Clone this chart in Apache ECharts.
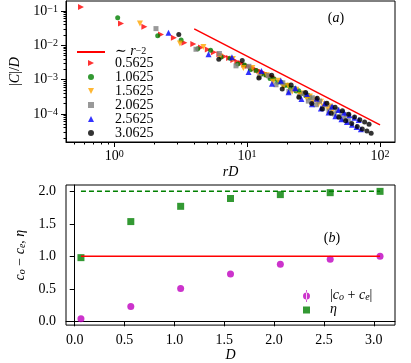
<!DOCTYPE html>
<html>
<head>
<meta charset="utf-8">
<script src="https://cdn.jsdelivr.net/npm/echarts@6.0.0/dist/echarts.min.js"></script>
<style>
  html, body { margin: 0; padding: 0; background: #fff; }
  #main { width: 411px; height: 363px; }
</style>
</head>
<body>
<div id="main"></div>
<script type="text/javascript">
// panel (a): |C|/D against rD, one list per D, index r = 1..28
var rIndex = [1, 2, 3, 4, 5, 6, 7, 8, 9, 10, 11, 12, 13, 14, 15, 16, 17, 18, 19, 20, 21, 22, 23, 24, 25, 26, 27, 28];
var dLabels = ["0.5625", "1.0625", "1.5625", "2.0625", "2.5625", "3.0625"];
var dValues = [0.5625, 1.0625, 1.5625, 2.0625, 2.5625, 3.0625];

var cD_0_5625 = [0.13, 0.0428, 0.0346, 0.0204, 0.0164, 0.0119, 0.0108, 0.00865, 0.0075, 0.00621, 0.0055, 0.00473, 0.00422, 0.00372,
  0.00332, 0.00299, 0.0027, 0.00247, 0.00226, 0.00205, 0.0019, 0.00177, 0.00162, 0.00152, 0.0014, 0.00133, 0.00123, 0.00117];
var cD_1_0625 = [0.0631, 0.019, 0.0143, 0.00787, 0.00711, 0.00451, 0.00417, 0.00284, 0.00264, 0.00195, 0.00185, 0.00142, 0.00136, 0.00107,
  0.00104, 0.000836, 0.00083, 0.000675, 0.000679, 0.00056, 0.000557, 0.000462, 0.000475, 0.000398, 0.000402, 0.000339, 0.000352, 0.000299];
var cD_1_5625 = [0.0432, 0.0113, 0.00893, 0.00469, 0.00395, 0.00218, 0.00216, 0.00132, 0.00134, 0.000861, 0.000916, 0.000612, 0.000656, 0.00045,
  0.000505, 0.000352, 0.000393, 0.000278, 0.000321, 0.000231, 0.000264, 0.000191, 0.000225, 0.000164, 0.00019, 0.00014, 0.000163, 0.000121];
var cD_2_0625 = [0.0305, 0.00762, 0.00575, 0.00251, 0.00243, 0.0012, 0.0013, 0.000705, 0.000805, 0.000451, 0.000538, 0.000321, 0.000394, 0.000236,
  0.000296, 0.000185, 0.000236, 0.000146, 0.000189, 0.000121, 0.000155, 0.0000998, 0.000132, 0.0000839, 0.000112, 0.0000731, 0.0000957, 0.0000631];
var cD_2_5625 = [0.0232, 0.00542, 0.00449, 0.00167, 0.00177, 0.000759, 0.000925, 0.000427, 0.00056, 0.000273, 0.000383, 0.00019, 0.000274, 0.000143,
  0.000206, 0.000109, 0.000164, 0.0000861, 0.000131, 0.0000698, 0.000108, 0.0000577, 0.0000918, 0.0000485, 0.0000776, 0.0000413, 0.0000665, 0.0000356];
var cD_3_0625 = [0.0205, 0.00388, 0.00361, 0.00111, 0.00133, 0.000531, 0.000693, 0.000305, 0.00042, 0.0002, 0.000287, 0.000139, 0.000206, 0.000104,
  0.000155, 0.00008, 0.000123, 0.0000631, 0.0000984, 0.0000524, 0.0000807, 0.0000433, 0.0000673, 0.0000364, 0.0000582, 0.0000317, 0.0000499, 0.0000274];

// reference power law ~ r^-2
var guideX = [4, 100];
var guideY = [0.03, 0.000048];

// panel (b)
var dList = [0.0625, 0.5625, 1.0625, 1.5625, 2.0625, 2.5625, 3.0625];
var sumAbs = [0.04, 0.23, 0.505, 0.73, 0.88, 0.955, 1.0];
var etaVals = [0.98, 1.535, 1.77, 1.89, 1.95, 1.98, 2.0];
var refX = [0.0625, 3.0625];
var refOne = [1, 1];
var refTwo = [2, 2];

// ticks
var topXMajor = [1, 10, 100];
var topXMinor = [0.5, 0.6, 0.7, 0.8, 0.9, 2, 3, 4, 5, 6, 7, 8, 9, 20, 30, 40, 50, 60, 70, 80, 90];
var topYMajor = [1e-4, 1e-3, 1e-2, 1e-1];
var topYMinor = [];
[-5, -4, -3, -2].forEach(function (e) {
  for (var m = 2; m <= 9; m++) topYMinor.push(m * Math.pow(10, e));
});
var botXTicks = [0, 0.5, 1, 1.5, 2, 2.5, 3];
var botYTicks = [0, 0.5, 1, 1.5, 2];

var serif = "'Liberation Serif', 'DejaVu Serif', serif";
var FS = 14;

var rich = {
  t: { fontFamily: serif, fontSize: FS, color: "#000", verticalAlign: "bottom" },
  i: { fontFamily: serif, fontSize: FS, color: "#000", fontStyle: "italic", verticalAlign: "bottom" },
  s: { fontFamily: serif, fontSize: 10, color: "#000", verticalAlign: "top" },
  sub: { fontFamily: serif, fontSize: 10, color: "#000", fontStyle: "italic", verticalAlign: "bottom" }
};

function expLabel(v) {
  var e = Math.round(Math.log(v) / Math.LN10);
  return "{t|10}{s|" + (e < 0 ? "\u2212" + (-e) : e) + "}";
}

function pairs(xs, ys) {
  return xs.map(function (x, i) { return [x, ys[i]]; });
}

var cLists = [cD_0_5625, cD_1_0625, cD_1_5625, cD_2_0625, cD_2_5625, cD_3_0625];
var markers = [
  { symbol: "triangle", rotate: -90, size: 6, color: "#ff0000", icon: "path://M0,0L6,3L0,6z" },
  { symbol: "circle", rotate: 0, size: 5, color: "#008000", icon: "circle" },
  { symbol: "triangle", rotate: 180, size: 6, color: "#ffa500", icon: "path://M0,0L6,0L3,6z" },
  { symbol: "rect", rotate: 0, size: 5, color: "#808080", icon: "rect" },
  { symbol: "triangle", rotate: 0, size: 6, color: "#0000ff", icon: "triangle" },
  { symbol: "circle", rotate: 0, size: 5, color: "#000000", icon: "circle" }
];

var series = [
  {
    name: "guide",
    type: "line",
    xAxisIndex: 0,
    yAxisIndex: 0,
    symbol: "none",
    data: pairs(guideX, guideY),
    lineStyle: { color: "#ff0000", width: 1.5 },
    itemStyle: { color: "#ff0000" }
  }
];
cLists.forEach(function (list, k) {
  var m = markers[k];
  series.push({
    name: dLabels[k],
    type: "scatter",
    xAxisIndex: 0,
    yAxisIndex: 0,
    symbol: m.symbol,
    symbolRotate: m.rotate,
    symbolSize: m.size,
    symbolKeepAspect: true,
    itemStyle: { color: m.color },
    data: rIndex.map(function (r, i) { return [r * dValues[k], list[i]]; })
  });
});
series.push(
  {
    name: "one",
    type: "line",
    xAxisIndex: 2,
    yAxisIndex: 2,
    symbol: "none",
    data: pairs(refX, refOne),
    lineStyle: { color: "#ff0000", width: 1.5 }
  },
  {
    name: "two",
    type: "line",
    xAxisIndex: 2,
    yAxisIndex: 2,
    symbol: "none",
    data: pairs(refX, refTwo),
    lineStyle: { color: "#008000", width: 1.5, type: [5, 3] }
  },
  {
    name: "sum",
    type: "scatter",
    xAxisIndex: 2,
    yAxisIndex: 2,
    symbol: "circle",
    symbolSize: 7,
    itemStyle: { color: "#bf00bf" },
    data: pairs(dList, sumAbs)
  },
  {
    name: "eta",
    type: "scatter",
    xAxisIndex: 2,
    yAxisIndex: 2,
    symbol: "rect",
    symbolSize: 7,
    symbolKeepAspect: true,
    itemStyle: { color: "#008000" },
    data: pairs(dList, etaVals)
  }
);

var tickLine = { color: "#000", width: 1 };
var legendText = { fontFamily: serif, fontSize: FS, color: "#000", lineHeight: 12, rich: rich };
var option = {
  animation: false,
  backgroundColor: "#fff",
  grid: [
    { left: 66, top: 1, width: 329, height: 141, show: true, borderColor: "#000", borderWidth: 1 },
    { left: 66, top: 185, width: 329, height: 142, show: true, borderColor: "#000", borderWidth: 1 }
  ],
  xAxis: [
    {
      type: "log", gridIndex: 0, min: 0.434, max: 129.6, position: "bottom",
      axisLine: { show: true, lineStyle: tickLine },
      axisTick: { customValues: topXMajor, length: 5, lineStyle: tickLine },
      axisLabel: { customValues: topXMajor, formatter: expLabel, rich: rich, margin: 7 },
      splitLine: { show: false },
      name: "rD", nameLocation: "middle", nameGap: 23,
      nameTextStyle: { fontFamily: serif, fontSize: FS, fontStyle: "italic", color: "#000" }
    },
    {
      type: "log", gridIndex: 0, min: 0.434, max: 129.6, position: "bottom",
      axisLine: { show: false },
      axisTick: { customValues: topXMinor, length: 2.5, lineStyle: tickLine },
      axisLabel: { show: false },
      splitLine: { show: false }
    },
    {
      type: "value", gridIndex: 1, min: -0.0875, max: 3.2125, position: "bottom",
      axisLine: { show: true, lineStyle: tickLine },
      axisTick: { customValues: botXTicks, length: 5, lineStyle: tickLine },
      axisLabel: {
        customValues: botXTicks, margin: 8,
        fontFamily: serif, fontSize: FS, color: "#000",
        formatter: function (v) { return v.toFixed(1); }
      },
      splitLine: { show: false },
      name: "D", nameLocation: "middle", nameGap: 22,
      nameTextStyle: { fontFamily: serif, fontSize: FS, fontStyle: "italic", color: "#000" }
    }
  ],
  yAxis: [
    {
      type: "log", gridIndex: 0, min: 1.52e-5, max: 0.194, position: "left",
      axisLine: { show: true, lineStyle: tickLine },
      axisTick: { customValues: topYMajor, length: 5, lineStyle: tickLine },
      axisLabel: { customValues: topYMajor, formatter: expLabel, rich: rich, margin: 8 },
      splitLine: { show: false },
      name: "{t||}{i|C}{t||/}{i|D}", nameLocation: "middle", nameGap: 38,
      nameTextStyle: { rich: rich }
    },
    {
      type: "log", gridIndex: 0, min: 1.52e-5, max: 0.194, position: "left",
      axisLine: { show: false },
      axisTick: { customValues: topYMinor, length: 2.5, lineStyle: tickLine },
      axisLabel: { show: false },
      splitLine: { show: false }
    },
    {
      type: "value", gridIndex: 1, min: -0.058, max: 2.098, position: "left",
      axisLine: { show: true, lineStyle: tickLine },
      axisTick: { customValues: botYTicks, length: 5, lineStyle: tickLine },
      axisLabel: {
        customValues: botYTicks, margin: 10,
        fontFamily: serif, fontSize: FS, color: "#000",
        formatter: function (v) { return v.toFixed(1); }
      },
      splitLine: { show: false },
      name: "{i|c}{sub|o}{t| \u2212 }{i|c}{sub|e}{t|, }{i|\u03b7}", nameLocation: "middle", nameGap: 38,
      nameTextStyle: { rich: rich }
    }
  ],
  legend: [
    {
      orient: "vertical", left: 77, top: 44, padding: 0,
      itemWidth: 28, itemHeight: 6, selectedMode: false,
      data: [{ name: "guide", icon: "path://M0,0h28v2h-28z" }],
      formatter: function () { return "{t|\u223c }{i|r}{s|\u22122}"; },
      textStyle: Object.assign({ padding: [0, 0, 0, 5] }, legendText)
    },
    {
      orient: "vertical", left: 88, top: 56, padding: 0, itemGap: 0,
      itemWidth: 6, itemHeight: 6, selectedMode: false,
      data: dLabels.map(function (name, k) {
        return { name: name, icon: markers[k].icon };
      }),
      textStyle: Object.assign({ padding: [0, 0, 0, 16] }, legendText)
    },
    {
      orient: "vertical", left: 303, top: 288, padding: 0,
      itemWidth: 7, itemHeight: 12, selectedMode: false,
      data: [{ name: "sum", icon: "path://M1.5,6a3.5,3.5 0 1,0 7,0a3.5,3.5 0 1,0 -7,0zM4.6,0h0.8v12h-0.8z" }],
      formatter: function () { return "{t||}{i|c}{sub|o}{t| + }{i|c}{sub|e}{t||}"; },
      textStyle: Object.assign({ padding: [0, 0, 0, 15] }, legendText)
    },
    {
      orient: "vertical", left: 303, top: 302, padding: 0,
      itemWidth: 7, itemHeight: 7, selectedMode: false,
      data: ["eta"],
      formatter: function () { return "{i|\u03b7}"; },
      textStyle: Object.assign({ padding: [0, 0, 0, 15] }, legendText)
    }
  ],
  graphic: [
    {
      type: "text", x: 336, y: 18,
      style: {
        text: "{t|(}{i|a}{t|)}", align: "center", verticalAlign: "middle",
        rich: {
          t: { fontFamily: serif, fontSize: FS, fill: "#000" },
          i: { fontFamily: serif, fontSize: FS, fontStyle: "italic", fill: "#000" }
        }
      }
    },
    {
      type: "text", x: 332, y: 238,
      style: {
        text: "{t|(}{i|b}{t|)}", align: "center", verticalAlign: "middle",
        rich: {
          t: { fontFamily: serif, fontSize: FS, fill: "#000" },
          i: { fontFamily: serif, fontSize: FS, fontStyle: "italic", fill: "#000" }
        }
      }
    }
  ],
  series: series
};

var chart = echarts.init(document.getElementById("main"));
chart.setOption(option);
</script>
</body>
</html>
